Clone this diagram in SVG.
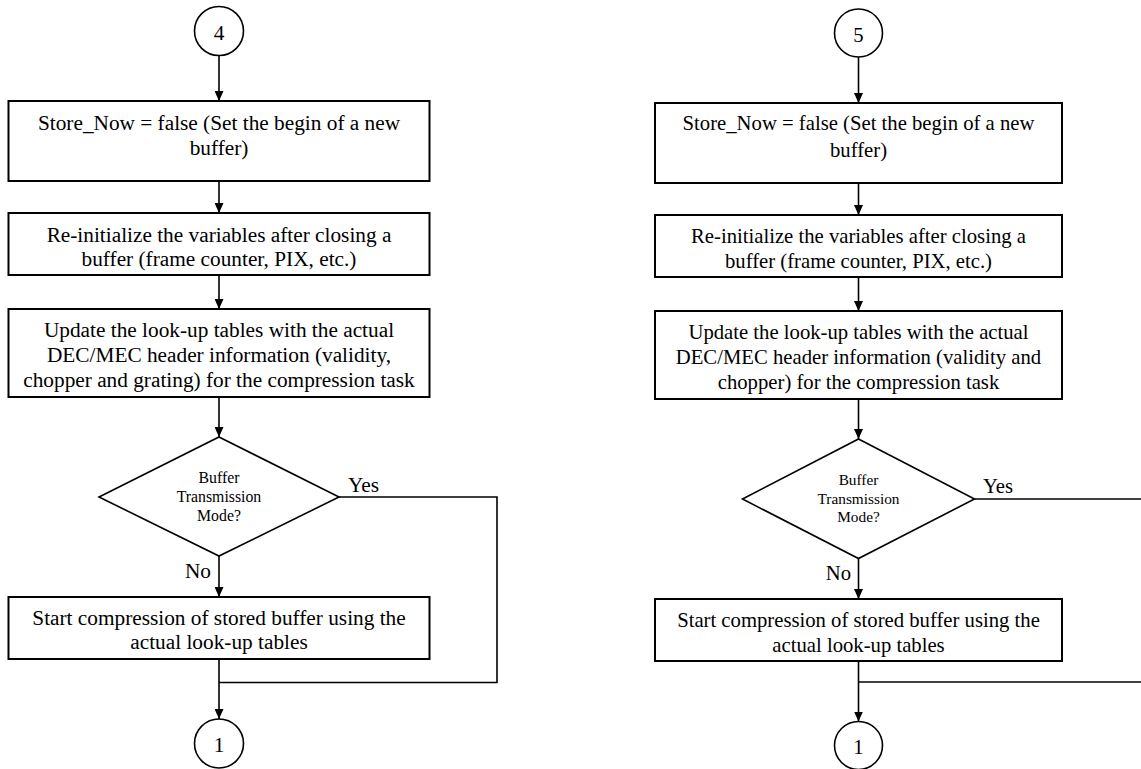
<svg xmlns="http://www.w3.org/2000/svg" width="1141" height="769" viewBox="0 0 1141 769">
<style>
.box{fill:#fff;stroke:#000;stroke-width:2}
.dia{fill:#fff;stroke:#000;stroke-width:1.6}
.circ{fill:#fff;stroke:#000;stroke-width:1.6}
.con{fill:none;stroke:#000;stroke-width:1.6}
.t{font-family:"Liberation Serif","Times New Roman",serif;fill:#000;text-anchor:middle}
.tl{font-size:21.3px}
.tr{font-size:20.7px}
.dl{font-size:15.8px}
.dr{font-size:15.3px}
</style>
<defs>
<marker id="arr" markerUnits="userSpaceOnUse" markerWidth="10" markerHeight="9" refX="10" refY="4.5" orient="auto">
<path d="M0,0 L10,4.5 L0,9 z" fill="#000"/>
</marker>
</defs>
<g id="connectors">
<line class="con" x1="219" y1="55.5" x2="219" y2="101" marker-end="url(#arr)"/>
<line class="con" x1="219" y1="181" x2="219" y2="213" marker-end="url(#arr)"/>
<line class="con" x1="219" y1="275" x2="219" y2="309" marker-end="url(#arr)"/>
<line class="con" x1="219" y1="397" x2="219" y2="437" marker-end="url(#arr)"/>
<line class="con" x1="219" y1="556" x2="219" y2="597" marker-end="url(#arr)"/>
<line class="con" x1="219" y1="659" x2="219" y2="719" marker-end="url(#arr)"/>
<path class="con" d="M339,497 H497 V682.5 H219"/>
<line class="con" x1="858.5" y1="57" x2="858.5" y2="103" marker-end="url(#arr)"/>
<line class="con" x1="858.5" y1="183" x2="858.5" y2="215" marker-end="url(#arr)"/>
<line class="con" x1="858.5" y1="277" x2="858.5" y2="311" marker-end="url(#arr)"/>
<line class="con" x1="858.5" y1="399" x2="858.5" y2="439" marker-end="url(#arr)"/>
<line class="con" x1="858.5" y1="558.5" x2="858.5" y2="599" marker-end="url(#arr)"/>
<line class="con" x1="858.5" y1="661" x2="858.5" y2="721.5" marker-end="url(#arr)"/>
<path class="con" d="M974.5,499 H1150"/>
<path class="con" d="M1150,682 H858.5"/>
<text class="t tl" x="348" y="492" style="text-anchor:start">Yes</text>
<text class="t tl" x="211" y="578" style="text-anchor:end">No</text>
<text class="t tr" x="983" y="493" style="text-anchor:start">Yes</text>
<text class="t tr" x="851" y="580" style="text-anchor:end">No</text>
</g>
<g id="L_c4"><circle class="circ" cx="219" cy="31" r="24.5"/><text class="t tl" x="219" y="40">4</text></g>
<g id="L_b1"><rect class="box" x="8.5" y="101" width="421" height="80"/>
<text class="t tl" x="219" y="130">Store_Now = false (Set the begin of a new</text>
<text class="t tl" x="219" y="155">buffer)</text></g>
<g id="L_b2"><rect class="box" x="8.5" y="213" width="421" height="62"/>
<text class="t tl" x="219" y="241.5">Re-initialize the variables after closing a</text>
<text class="t tl" x="219" y="266">buffer (frame counter, PIX, etc.)</text></g>
<g id="L_b3"><rect class="box" x="8.5" y="309" width="421" height="88"/>
<text class="t tl" x="219" y="336.5">Update the look-up tables with the actual</text>
<text class="t tl" x="219" y="362">DEC/MEC header information (validity,</text>
<text class="t tl" x="219" y="387">chopper and grating) for the compression task</text></g>
<g id="L_d"><polygon class="dia" points="219,437 339,497 219,556 99,497"/>
<text class="t dl" x="219" y="483">Buffer</text>
<text class="t dl" x="219" y="502">Transmission</text>
<text class="t dl" x="219" y="520.5">Mode?</text></g>
<g id="L_b4"><rect class="box" x="8.5" y="597" width="421" height="62"/>
<text class="t tl" x="219" y="625">Start compression of stored buffer using the</text>
<text class="t tl" x="219" y="648.5">actual look-up tables</text></g>
<g id="L_c1"><circle class="circ" cx="219" cy="743.5" r="24.5"/><text class="t tl" x="219" y="751.5">1</text></g>

<g id="R_c5"><circle class="circ" cx="858.5" cy="33" r="24"/><text class="t tr" x="858.5" y="41.5">5</text></g>
<g id="R_b1"><rect class="box" x="655" y="103" width="407" height="80"/>
<text class="t tr" x="858.5" y="130">Store_Now = false (Set the begin of a new</text>
<text class="t tr" x="858.5" y="156.5">buffer)</text></g>
<g id="R_b2"><rect class="box" x="655" y="215" width="407" height="62"/>
<text class="t tr" x="858.5" y="242.5">Re-initialize the variables after closing a</text>
<text class="t tr" x="858.5" y="268">buffer (frame counter, PIX, etc.)</text></g>
<g id="R_b3"><rect class="box" x="655" y="311" width="407" height="88"/>
<text class="t tr" x="858.5" y="338.5">Update the look-up tables with the actual</text>
<text class="t tr" x="858.5" y="364">DEC/MEC header information (validity and</text>
<text class="t tr" x="858.5" y="389">chopper) for the compression task</text></g>
<g id="R_d"><polygon class="dia" points="858.5,439 974.5,499 858.5,558.5 742.5,499"/>
<text class="t dr" x="858.5" y="485">Buffer</text>
<text class="t dr" x="858.5" y="503.5">Transmission</text>
<text class="t dr" x="858.5" y="522">Mode?</text></g>
<g id="R_b4"><rect class="box" x="655" y="599" width="407" height="62"/>
<text class="t tr" x="858.5" y="626.5">Start compression of stored buffer using the</text>
<text class="t tr" x="858.5" y="651.5">actual look-up tables</text></g>
<g id="R_c1"><circle class="circ" cx="858.5" cy="745.5" r="24"/><text class="t tr" x="858.5" y="753.5">1</text></g>
</svg>
